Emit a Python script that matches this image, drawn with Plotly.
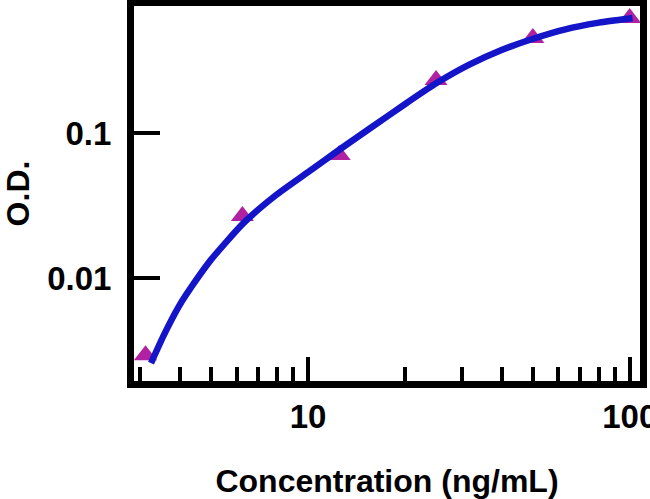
import plotly.graph_objects as go

# measured standards
conc = [3.125, 6.25, 12.5, 25, 50, 100]
od = [0.00294, 0.0268, 0.0705, 0.232, 0.452, 0.621]

# fitted curve
curve_x = [3.25, 3.55, 3.98, 4.47, 5.01, 6.31, 7.94, 10.0, 12.6, 15.8, 20.0, 25.1,
           31.6, 39.8, 50.1, 63.1, 79.4, 100, 102]
curve_y = [0.00259, 0.00398, 0.00646, 0.00955, 0.0135, 0.0240, 0.0372, 0.0537, 0.0776,
           0.110, 0.158, 0.221, 0.295, 0.372, 0.447, 0.519, 0.575, 0.617, 0.621]

x_ticks = [10, 100]
x_labels = ["10", "100"]
x_minor = [3, 4, 5, 6, 7, 8, 9, 20, 30, 40, 50, 60, 70, 80, 90]
y_ticks = [0.01, 0.1]
y_labels = ["0.01", "0.1"]

tick_font = dict(family="Liberation Sans, Arial, sans-serif", size=33, color="black", weight="bold")
title_font = dict(family="Liberation Sans, Arial, sans-serif", size=32, color="black", weight="bold")

fig = go.Figure()
fig.add_trace(go.Scatter(x=conc, y=od, mode="markers",
                         marker=dict(symbol="triangle-up", size=20, color="#b022a2"),
                         showlegend=False))
fig.add_trace(go.Scatter(x=curve_x, y=curve_y, mode="lines",
                         line=dict(color="#1414c8", width=6.5, shape="spline", smoothing=0.6),
                         showlegend=False))

fig.update_layout(
    width=650, height=499,
    margin=dict(l=134, r=10, t=6, b=118),
    plot_bgcolor="white", paper_bgcolor="white",
    font=tick_font,
)
fig.update_xaxes(
    type="log", range=[0.459, 2.032], automargin=False,
    tickvals=x_ticks, ticktext=x_labels, ticklabeloverflow="allow",
    ticks="inside", ticklen=24, tickwidth=4, tickcolor="black",
    minor=dict(ticks="inside", ticklen=14, tickwidth=4, tickcolor="black", tickvals=x_minor),
    showline=True, linewidth=7, linecolor="black", mirror=True,
    showgrid=False, zeroline=False,
    ticklabelstandoff=0,
    title=dict(text="Concentration (ng/mL)", standoff=48, font=title_font),
    tickfont=tick_font,
)
fig.update_yaxes(
    type="log", range=[-2.710, -0.124], automargin=False,
    tickvals=y_ticks, ticktext=y_labels, ticklabeloverflow="allow",
    ticks="inside", ticklen=26, tickwidth=4, tickcolor="black",
    showline=True, linewidth=7, linecolor="black", mirror=True,
    showgrid=False, zeroline=False,
    ticklabelstandoff=9,
    title=dict(text="O.D.", standoff=30, font=title_font),
    tickfont=tick_font,
)

# drop the browser's default 8px body margin so the figure sits at the page corner
fig.write_html("out.html", config={"displayModeBar": False},
               post_script="document.body.style.margin = '0px';")
